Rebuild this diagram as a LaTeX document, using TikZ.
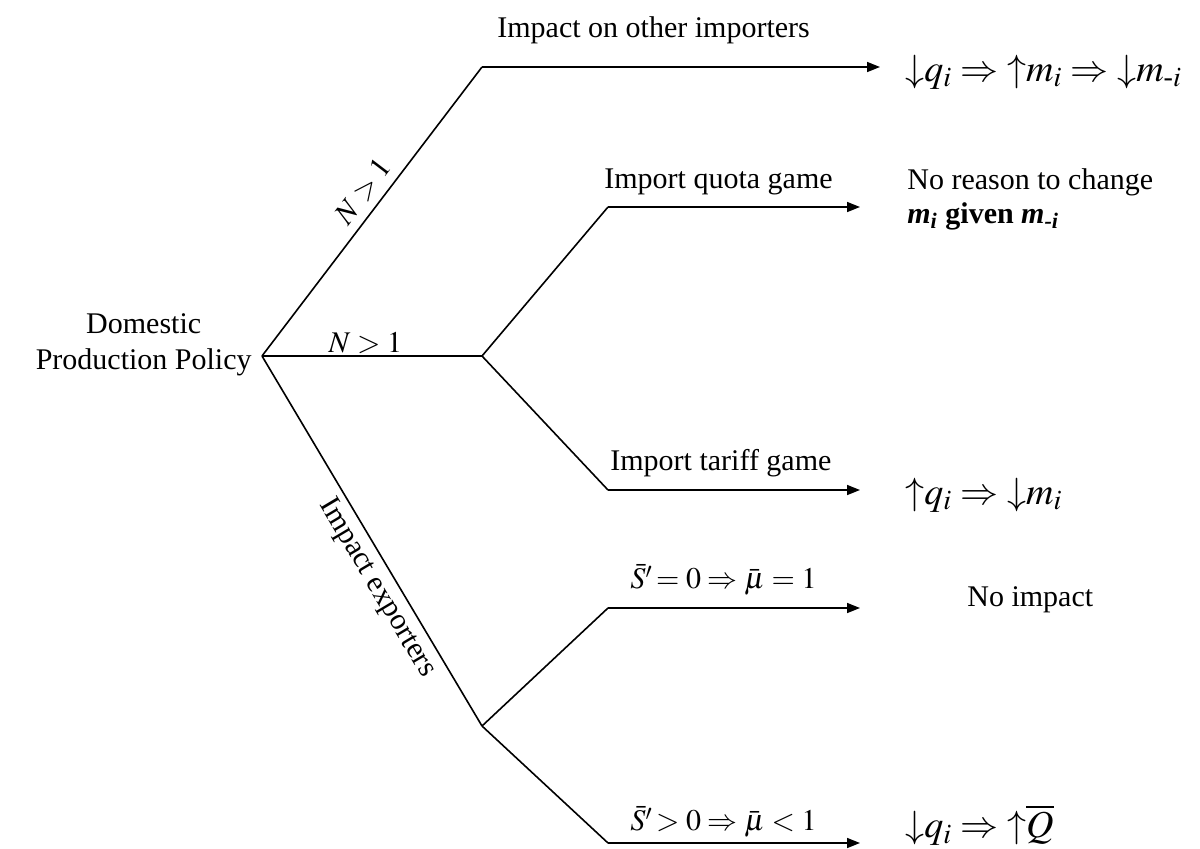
\documentclass[tikz,border=0pt]{standalone}
\usepackage{amsmath}
\usepackage{mathptmx}
\usepackage[no-math]{fontspec}
\setmainfont{Liberation Serif}
\usetikzlibrary{arrows.meta}
\newcommand{\dnar}{\mathord{\downarrow}}
\newcommand{\upar}{\mathord{\uparrow}}
\begin{document}
\begin{tikzpicture}[x=0.5pt,y=-0.5pt,
  br/.style={draw, line width=0.8pt},
  arr/.style={br, -{Triangle[length=6.5pt,width=5pt]}},
  lbl/.style={inner sep=1pt, font=\fontsize{15}{18}\selectfont},
  res/.style={inner sep=0pt, anchor=west, font=\fontsize{19}{22}\selectfont}]
\useasboundingbox (0,0) rectangle (1200,848);
% branching points
\coordinate (root) at (262,356);
\coordinate (A) at (482,67);
\coordinate (Aend) at (880,67);
\coordinate (B) at (482,356);
\coordinate (Q) at (608,207);
\coordinate (Qend) at (860,207);
\coordinate (T) at (608,490);
\coordinate (Tend) at (860,490);
\coordinate (C) at (482,726);
\coordinate (E1) at (608,608);
\coordinate (E1end) at (860,608);
\coordinate (E2) at (608,843);
\coordinate (E2end) at (860,843);
% root label
\node[lbl, align=center, anchor=east] (dom) at (254,345) {Domestic\\Production Policy};
% branches
\draw[br] (root) -- node[lbl, sloped, above=3pt, pos=0.53] (n1) {$N>1$} (A);
\draw[arr] (A) -- (Aend);
\draw[br] (root) -- node[lbl, above, pos=0.47] (n2) {$N>1$} (B);
\draw[br] (B) -- (Q);
\draw[arr] (Q) -- (Qend);
\draw[br] (B) -- (T);
\draw[arr] (T) -- (Tend);
\draw[br] (root) -- node[lbl, sloped, below=2pt, pos=0.6] (ie) {Impact exporters} (C);
\draw[br] (C) -- (E1);
\draw[arr] (E1) -- (E1end);
\draw[br] (C) -- (E2);
\draw[arr] (E2) -- (E2end);
% branch labels
\node[lbl, anchor=west] (ioi) at (495,30) {Impact on other importers};
\node[lbl, anchor=west] (iqg) at (602,182) {Import quota game};
\node[lbl, anchor=west] (itg) at (608,463) {Import tariff game};
\node[lbl, anchor=west] (s0) at (628,580) {$\bar{S}'\!=0\Rightarrow\bar{\mu}=1$};
\node[lbl, anchor=west] (s1) at (628,822) {$\bar{S}'\!>0\Rightarrow\bar{\mu}<1$};
% results
\node[res] (r1) at (905,72) {$\dnar q_i\Rightarrow\upar m_i\Rightarrow\dnar m_{\text{-}i}$};
\node[lbl, anchor=west] (r2a) at (905,182) {No reason to change};
\node[lbl, anchor=west] (r2b) at (905,216) {\bfseries\itshape m\textsubscript{i}\upshape{} given \itshape m\textsubscript{-i}};
\node[res] (r3) at (905,495) {$\upar q_i\Rightarrow\dnar m_i$};
\node[lbl, anchor=west] (r4) at (965,600) {No impact};
\node[res] (r5) at (905,825) {$\dnar q_i\Rightarrow\upar\overline{Q}$};
\end{tikzpicture}
\end{document}
